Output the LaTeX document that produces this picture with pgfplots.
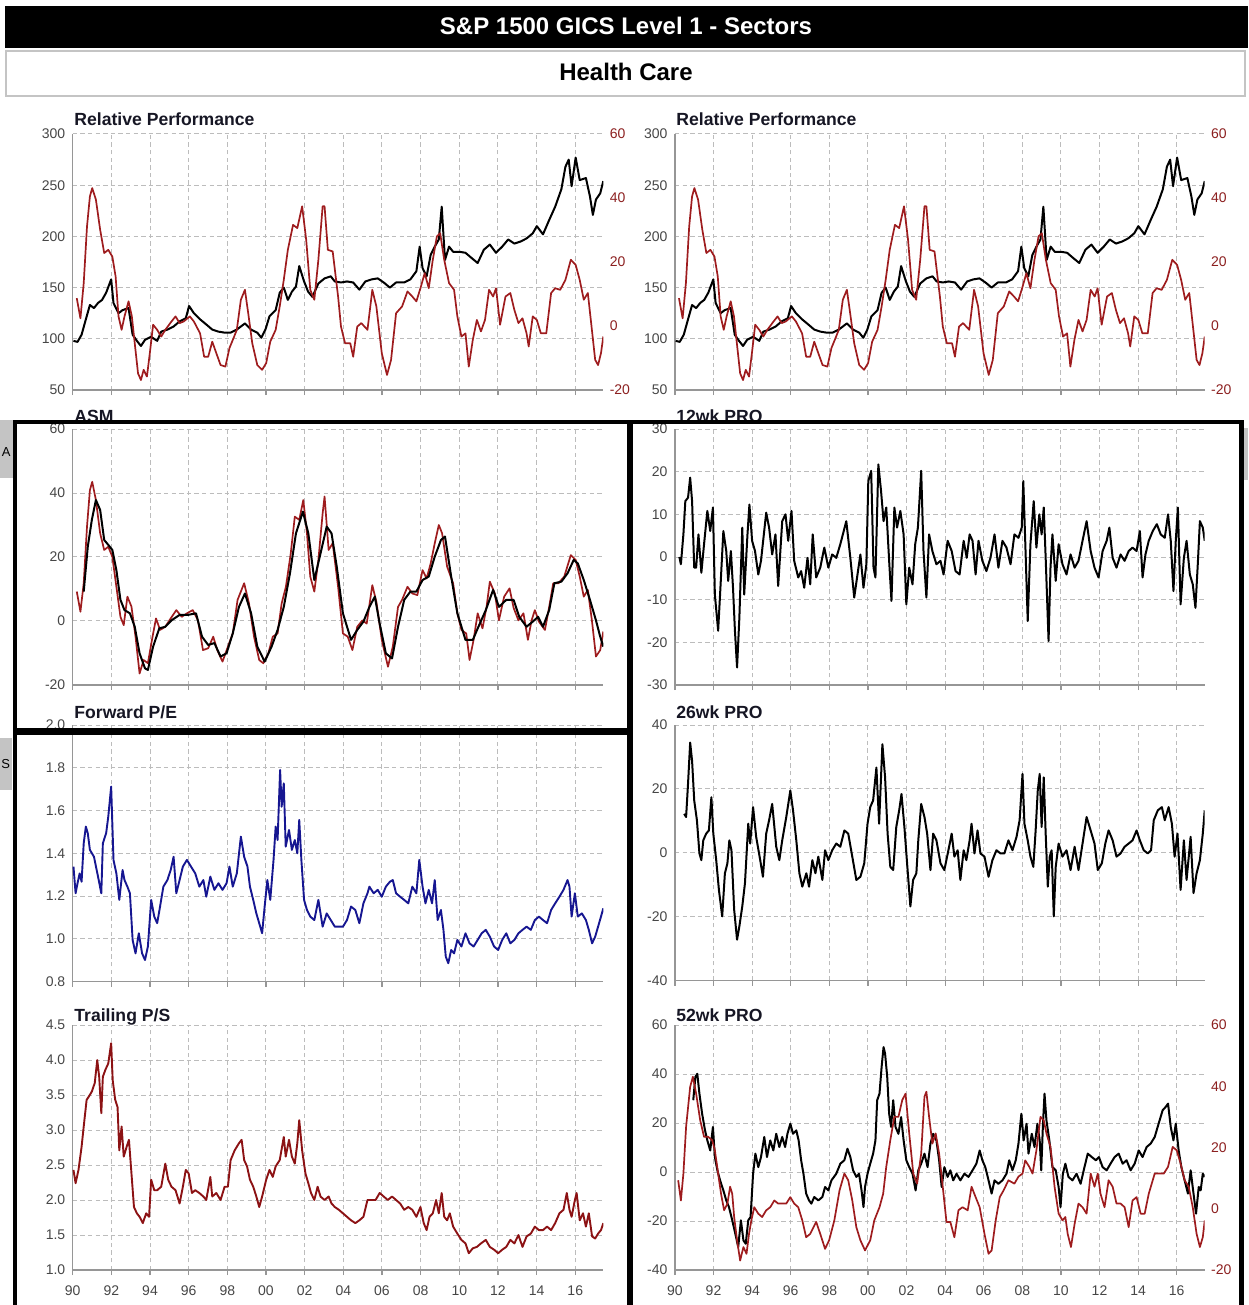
\documentclass[border=0pt]{standalone}
\usepackage{fontspec}
\setmainfont{Liberation Sans}
\usepackage{pgfplots}
\usepackage{pgfplotstable}
\pgfplotsset{compat=1.18}

\definecolor{pred}{RGB}{158,28,30}
\definecolor{pmaroon}{RGB}{140,18,20}
\definecolor{pblue}{RGB}{22,22,145}
\definecolor{gridgray}{RGB}{188,188,188}
\definecolor{axgray}{RGB}{150,150,150}
\definecolor{lblgray}{RGB}{70,70,70}
\definecolor{lblred}{RGB}{140,32,32}
\definecolor{tabgray}{RGB}{196,196,196}
\definecolor{ttl}{RGB}{22,22,36}

\def\LX{36.35pt}\def\RX{337.45pt}
\def\LW{265.3pt}\def\RW{264.9pt}

\pgfplotsset{
  panel/.style={
    scale only axis,
    xmin=1990, xmax=2017.45,
    axis x line*=bottom, axis y line*=left,
    axis line style={-, axgray, line width=0.75pt},
    xtick={1990,1992,...,2016},
    xticklabels={},
    tick align=outside,
    major tick length=2.5pt,
    xtick style={axgray, line width=0.6pt},
    ytick style={draw=none},
    grid=major,
    major grid style={gridgray, line width=0.5pt, dash pattern=on 2.2pt off 1.6pt},
    tick label style={font=\fontsize{7}{8}\selectfont, text=lblgray},
    yticklabel style={xshift=2.3pt},
    /pgf/number format/assume math mode=true,
    anchor=north west,
  },
  twin/.style={
    scale only axis,
    xmin=1990, xmax=2017.45,
    axis x line=none, axis y line*=right,
    axis line style={draw=none},
    ytick style={draw=none},
    tick align=outside,
    major tick length=2.5pt,
    ymin=-20, ymax=60, ytick={-20,0,20,40,60},
    tick label style={font=\fontsize{7}{8}\selectfont, text=lblred},
    yticklabel style={xshift=-2.8pt},
    /pgf/number format/assume math mode=true,
    anchor=north west,
  },
  bottomrow/.style={
    xticklabels={90,92,94,96,98,00,02,04,06,08,10,12,14,16},
    xticklabel style={yshift=-2pt},
  },
  blk/.style={black, line width=1pt, line join=round},
  rd/.style={pred, line width=0.85pt, line join=round},
}

% Relative performance (shared by both top panels)
\pgfplotstableread[row sep=\\]{
x y\\
1990.04 98\\ 1990.25 97\\ 1990.46 104\\ 1990.68 119\\ 1990.89 133\\ 1991.10 130\\ 1991.31 135\\ 1991.52 138\\
1991.73 145\\ 1991.99 158\\ 1992.11 135\\ 1992.37 125\\ 1992.58 128\\ 1992.89 130\\ 1993.10 104\\ 1993.32 98\\
1993.53 93\\ 1993.74 99\\ 1994.05 102\\ 1994.37 98\\ 1994.58 107\\ 1994.90 109\\ 1995.22 112\\ 1995.53 117\\
1995.85 120\\ 1996.02 132\\ 1996.27 125\\ 1996.59 119\\ 1996.91 114\\ 1997.22 109\\ 1997.54 107\\ 1997.86 106\\
1998.17 106\\ 1998.49 109\\ 1998.91 115\\ 1999.23 109\\ 1999.55 106\\ 1999.76 101\\ 1999.97 109\\ 2000.18 122\\
2000.50 128\\ 2000.71 145\\ 2000.92 150\\ 2001.13 138\\ 2001.34 146\\ 2001.55 151\\ 2001.72 171\\ 2001.97 156\\
2002.18 146\\ 2002.40 141\\ 2002.71 154\\ 2003.03 159\\ 2003.35 161\\ 2003.56 156\\ 2003.88 155\\ 2004.19 156\\
2004.51 155\\ 2004.83 148\\ 2005.14 156\\ 2005.46 158\\ 2005.78 159\\ 2006.09 155\\ 2006.41 150\\ 2006.73 155\\
2007.15 155\\ 2007.47 158\\ 2007.78 166\\ 2007.95 190\\ 2008.10 169\\ 2008.31 161\\ 2008.52 182\\ 2008.73 190\\
2008.94 197\\ 2009.09 229\\ 2009.26 177\\ 2009.47 190\\ 2009.68 185\\ 2010.00 185\\ 2010.32 184\\ 2010.63 179\\
2010.95 174\\ 2011.27 187\\ 2011.58 192\\ 2011.90 184\\ 2012.22 190\\ 2012.53 197\\ 2012.85 193\\ 2013.17 195\\
2013.48 198\\ 2013.80 203\\ 2014.01 210\\ 2014.33 202\\ 2014.65 216\\ 2014.96 229\\ 2015.28 246\\ 2015.49 268\\
2015.66 275\\ 2015.81 249\\ 2016.02 277\\ 2016.23 255\\ 2016.55 257\\ 2016.76 239\\ 2016.91 221\\ 2017.07 236\\
2017.29 242\\ 2017.45 254\\
}\relblack

\pgfplotstableread[row sep=\\]{
x y\\
1990.21 8.7\\ 1990.40 2.4\\ 1990.57 13.4\\ 1990.74 31.1\\ 1990.89 40.5\\ 1991.01 43.1\\ 1991.20 39.5\\ 1991.42 30.1\\
1991.63 22.8\\ 1991.84 23.8\\ 1992.05 21.7\\ 1992.22 15.5\\ 1992.37 3.0\\ 1992.53 -1.2\\ 1992.68 3.0\\ 1992.89 7.7\\
1993.06 3.0\\ 1993.21 -5.4\\ 1993.38 -14.8\\ 1993.53 -16.9\\ 1993.67 -13.7\\ 1993.84 -15.8\\ 1993.99 -8.5\\ 1994.16 0.4\\
1994.37 -1.2\\ 1994.58 -3.3\\ 1994.79 -1.2\\ 1995.11 1.4\\ 1995.32 3.0\\ 1995.53 0.9\\ 1995.74 1.4\\ 1996.06 3.0\\
1996.27 1.4\\ 1996.59 -2.3\\ 1996.80 -9.6\\ 1997.01 -9.6\\ 1997.22 -4.9\\ 1997.43 -8.5\\ 1997.65 -12.2\\ 1997.90 -12.7\\
1998.11 -6.9\\ 1998.32 -3.8\\ 1998.49 -1.2\\ 1998.70 8.2\\ 1998.91 11.3\\ 1999.08 4.0\\ 1999.29 -5.4\\ 1999.55 -12.2\\
1999.80 -13.7\\ 2000.01 -11.6\\ 2000.22 -4.9\\ 2000.50 -1.2\\ 2000.71 6.1\\ 2000.92 14.4\\ 2001.13 23.8\\ 2001.40 31.6\\
2001.62 30.6\\ 2001.87 37.4\\ 2002.08 26.9\\ 2002.29 11.3\\ 2002.50 8.2\\ 2002.71 20.7\\ 2002.93 37.4\\ 2003.03 37.4\\
2003.20 23.8\\ 2003.45 23.3\\ 2003.73 9.2\\ 2003.88 -0.2\\ 2004.09 -5.4\\ 2004.36 -5.4\\ 2004.51 -9.6\\ 2004.72 -0.2\\
2004.93 0.9\\ 2005.25 -1.2\\ 2005.50 11.3\\ 2005.71 6.1\\ 2005.99 -8.5\\ 2006.26 -15.3\\ 2006.47 -10.6\\ 2006.73 4.0\\
2007.04 6.1\\ 2007.32 10.8\\ 2007.57 9.2\\ 2007.78 7.7\\ 2007.99 11.8\\ 2008.21 16.5\\ 2008.42 11.8\\ 2008.63 20.7\\
2008.84 28.0\\ 2009.01 29.0\\ 2009.22 20.7\\ 2009.47 13.4\\ 2009.73 11.3\\ 2009.90 3.0\\ 2010.11 -3.3\\ 2010.32 -2.3\\
2010.49 -12.7\\ 2010.70 -4.3\\ 2010.91 1.9\\ 2011.12 -1.7\\ 2011.33 1.9\\ 2011.54 11.3\\ 2011.75 9.2\\ 2011.90 11.8\\
2012.11 0.4\\ 2012.39 9.2\\ 2012.64 10.3\\ 2012.85 5.0\\ 2013.06 0.9\\ 2013.27 2.4\\ 2013.48 -2.3\\ 2013.59 -6.4\\
2013.80 3.0\\ 2014.01 1.9\\ 2014.22 -2.3\\ 2014.50 -2.3\\ 2014.75 10.3\\ 2014.96 11.8\\ 2015.22 11.3\\ 2015.49 14.4\\
2015.77 20.7\\ 2016.02 19.1\\ 2016.23 14.4\\ 2016.44 8.2\\ 2016.65 10.3\\ 2016.86 -1.2\\ 2017.03 -10.6\\ 2017.18 -12.2\\
2017.33 -8.5\\ 2017.45 -3.3\\
}\relred

\begin{document}
\begin{tikzpicture}
% page area: 1248 x 1305 units of 0.5pt
\useasboundingbox (0pt,0pt) rectangle (624pt,-652.5pt);
\begin{scope}[x=0.5pt,y=-0.5pt]
  % header
  \fill[black] (5,6) rectangle (1248,48);
  \node[text=white, font=\bfseries\fontsize{12}{14}\selectfont] at (626,26) {S\&P 1500 GICS Level 1 - Sectors};
  \draw[tabgray, line width=1.25pt] (6,51) rectangle (1245,96);
  \node[font=\bfseries\fontsize{12}{14}\selectfont] at (626,72) {Health Care};
  % side tabs
  \fill[tabgray] (0,420) rectangle (13,478);
  \node[font=\fontsize{6.5}{7}\selectfont, inner sep=0pt] at (6.2,452) {A};
  \fill[tabgray] (0,738) rectangle (12,790);
  \node[font=\fontsize{6.5}{7}\selectfont, inner sep=0pt] at (5.8,764) {S};
  \fill[tabgray] (1244,428) rectangle (1248,480);
\end{scope}

% ---------- Row 1: Relative Performance ----------
\begin{axis}[panel, at={(\LX,-67pt)}, width=\LW, height=128pt,
  ymin=50, ymax=300, ytick={50,100,...,300}]
\addplot[blk] table {\relblack};
\end{axis}
\begin{axis}[twin, at={(\LX,-67pt)}, width=\LW, height=128pt]
\addplot[rd] table {\relred};
\end{axis}

\begin{axis}[panel, at={(\RX,-67pt)}, width=\RW, height=128pt,
  ymin=50, ymax=300, ytick={50,100,...,300}]
\addplot[blk] table {\relblack};
\end{axis}
\begin{axis}[twin, at={(\RX,-67pt)}, width=\RW, height=128pt]
\addplot[rd] table {\relred};
\end{axis}

% ---------- Row 2: ASM / 12wk PRO ----------
\begin{axis}[panel, at={(\LX,-214.5pt)}, width=\LW, height=128pt,
  ymin=-20, ymax=60, ytick={-20,0,20,40,60}]
\addplot[rd] table[row sep=\\] {
x y\\
1990.21 9.2\\ 1990.40 2.9\\ 1990.57 11.8\\ 1990.74 29.5\\ 1990.89 40.9\\ 1991.01 43.5\\ 1991.20 37.8\\ 1991.42 27.4\\
1991.63 22.2\\ 1991.84 23.2\\ 1992.05 20.1\\ 1992.26 10.7\\ 1992.47 1.3\\ 1992.64 -1.3\\ 1992.83 7.6\\ 1993.04 4.5\\
1993.25 -4.9\\ 1993.46 -16.4\\ 1993.67 -12.2\\ 1993.89 -13.2\\ 1994.10 -5.9\\ 1994.31 0.8\\ 1994.52 -2.8\\ 1994.79 -1.8\\
1995.07 0.8\\ 1995.36 3.4\\ 1995.64 1.3\\ 1995.91 2.4\\ 1996.21 3.4\\ 1996.48 0.2\\ 1996.74 -9.1\\ 1997.01 -8.5\\
1997.27 -4.9\\ 1997.48 -9.1\\ 1997.75 -12.7\\ 1998.03 -8.0\\ 1998.28 -3.9\\ 1998.53 6.6\\ 1998.87 11.8\\ 1999.12 5.5\\
1999.38 -4.9\\ 1999.65 -12.2\\ 1999.86 -13.2\\ 2000.12 -10.1\\ 2000.35 -4.9\\ 2000.60 -3.9\\ 2000.81 5.5\\ 2001.03 10.7\\
2001.28 21.1\\ 2001.49 32.6\\ 2001.72 31.6\\ 2001.93 37.8\\ 2002.12 27.4\\ 2002.29 13.9\\ 2002.50 9.2\\ 2002.71 19.1\\
2002.93 33.6\\ 2003.03 38.9\\ 2003.24 22.2\\ 2003.45 24.3\\ 2003.73 10.7\\ 2003.98 -3.9\\ 2004.23 -4.9\\ 2004.47 -9.1\\
2004.72 -1.8\\ 2004.99 0.2\\ 2005.21 -0.8\\ 2005.50 11.2\\ 2005.71 6.0\\ 2005.99 -5.9\\ 2006.31 -14.3\\ 2006.56 -8.0\\
2006.83 4.4\\ 2007.04 6.6\\ 2007.32 10.7\\ 2007.57 8.6\\ 2007.83 8.1\\ 2008.10 15.9\\ 2008.31 13.3\\ 2008.52 18.0\\
2008.73 24.3\\ 2008.94 30.0\\ 2009.11 27.4\\ 2009.37 17.0\\ 2009.68 11.8\\ 2009.90 2.4\\ 2010.11 -2.8\\ 2010.36 -3.9\\
2010.53 -12.2\\ 2010.74 -5.9\\ 2010.95 2.4\\ 2011.20 -2.3\\ 2011.41 4.4\\ 2011.58 12.3\\ 2011.84 8.6\\ 2012.05 0.2\\
2012.32 7.6\\ 2012.60 10.2\\ 2012.81 4.1\\ 2013.06 0.2\\ 2013.32 2.4\\ 2013.55 -5.9\\ 2013.74 0.2\\ 2013.91 3.4\\
2014.12 -0.2\\ 2014.43 -2.8\\ 2014.65 4.4\\ 2014.86 11.8\\ 2015.13 11.8\\ 2015.43 13.9\\ 2015.77 20.6\\ 2016.02 19.1\\
2016.23 13.9\\ 2016.44 7.6\\ 2016.65 9.7\\ 2016.86 0.2\\ 2017.07 -11.1\\ 2017.29 -9.1\\ 2017.45 -3.3\\
};
\addplot[blk] table[row sep=\\] {
x y\\
1990.57 9.2\\ 1990.78 23.2\\ 1990.99 31.6\\ 1991.20 37.8\\ 1991.42 34.7\\ 1991.63 25.3\\ 1991.84 23.8\\ 1992.05 22.2\\
1992.26 15.9\\ 1992.47 6.6\\ 1992.68 3.4\\ 1992.96 2.4\\ 1993.21 -1.8\\ 1993.46 -10.1\\ 1993.74 -14.8\\ 1993.89 -15.3\\
1994.16 -8.0\\ 1994.48 -2.3\\ 1994.79 -1.8\\ 1995.11 0.2\\ 1995.53 1.9\\ 1995.96 1.9\\ 1996.38 2.4\\ 1996.69 -4.9\\
1997.01 -7.5\\ 1997.33 -6.9\\ 1997.65 -11.1\\ 1997.96 -10.1\\ 1998.28 -3.9\\ 1998.60 4.4\\ 1998.91 8.6\\ 1999.23 2.4\\
1999.55 -8.0\\ 1999.93 -12.7\\ 2000.29 -8.0\\ 2000.60 -2.8\\ 2000.92 4.4\\ 2001.24 14.9\\ 2001.55 27.4\\ 2001.91 34.2\\
2002.19 27.4\\ 2002.50 12.8\\ 2002.82 21.1\\ 2003.14 29.5\\ 2003.39 27.4\\ 2003.66 17.0\\ 2003.98 2.4\\ 2004.40 -5.9\\
2004.72 -2.8\\ 2005.04 -0.2\\ 2005.35 4.4\\ 2005.63 7.6\\ 2005.88 -0.8\\ 2006.20 -10.1\\ 2006.52 -11.7\\ 2006.83 -1.8\\
2007.15 6.6\\ 2007.47 9.2\\ 2007.78 9.2\\ 2008.10 12.8\\ 2008.42 13.9\\ 2008.73 20.1\\ 2009.05 25.3\\ 2009.26 26.4\\
2009.58 13.9\\ 2009.90 2.4\\ 2010.32 -5.9\\ 2010.70 -5.9\\ 2010.99 -1.8\\ 2011.37 3.4\\ 2011.75 9.7\\ 2012.05 4.4\\
2012.43 6.6\\ 2012.81 6.6\\ 2013.10 1.3\\ 2013.48 -1.8\\ 2013.80 -0.2\\ 2014.08 1.3\\ 2014.33 -1.8\\ 2014.65 3.4\\
2014.92 11.8\\ 2015.28 12.3\\ 2015.60 14.9\\ 2015.92 19.1\\ 2016.13 18.0\\ 2016.44 12.8\\ 2016.76 6.6\\ 2017.07 0.2\\
2017.29 -4.9\\ 2017.45 -8.0\\
};
\end{axis}

\begin{axis}[panel, at={(\RX,-214.5pt)}, width=\RW, height=128pt,
  ymin=-30, ymax=30, ytick={-30,-20,...,30}]
\addplot[blk] table[row sep=\\] {
x y\\
1990.23 0\\ 1990.31 -1.7\\ 1990.44 5.3\\ 1990.54 13.1\\ 1990.68 13.9\\ 1990.79 18.6\\ 1990.89 13.1\\ 1991.00 -2.5\\
1991.10 -2.5\\ 1991.22 5.3\\ 1991.37 -3.7\\ 1991.51 3.0\\ 1991.68 10.8\\ 1991.83 6.1\\ 1991.97 11.6\\ 1992.07 -8.8\\
1992.24 -17.3\\ 1992.34 -8.8\\ 1992.51 6.1\\ 1992.66 1.4\\ 1992.76 -5.6\\ 1992.90 1.4\\ 1993.01 -7.2\\ 1993.11 -17.3\\
1993.22 -25.9\\ 1993.34 -14.2\\ 1993.49 6.9\\ 1993.59 -8.8\\ 1993.76 5.3\\ 1993.86 12.3\\ 1994.00 3.8\\ 1994.15 1.4\\
1994.32 -4.1\\ 1994.46 -0.9\\ 1994.73 10.4\\ 1994.88 6.9\\ 1995.04 0.6\\ 1995.21 5.3\\ 1995.35 -6.8\\ 1995.56 8.4\\
1995.73 10.0\\ 1995.87 3.8\\ 1996.04 10.8\\ 1996.18 -0.9\\ 1996.39 -4.8\\ 1996.54 -3.3\\ 1996.70 -7.2\\ 1996.87 -0.2\\
1997.01 -6.4\\ 1997.14 5.3\\ 1997.32 -4.8\\ 1997.53 -2.5\\ 1997.74 2.2\\ 1997.95 -2.5\\ 1998.15 0.6\\ 1998.36 -0.2\\
1998.57 3.0\\ 1998.88 8.4\\ 1999.09 -0.2\\ 1999.29 -9.5\\ 1999.46 -4.1\\ 1999.61 0.6\\ 1999.77 -7.2\\ 1999.92 -1.7\\
2000.02 17.8\\ 2000.17 20.2\\ 2000.29 -2.5\\ 2000.39 -4.8\\ 2000.54 21.7\\ 2000.68 15.5\\ 2000.81 8.4\\ 2000.95 11.6\\
2001.10 -0.9\\ 2001.22 -10.3\\ 2001.37 11.6\\ 2001.51 6.9\\ 2001.68 10.8\\ 2001.85 5.3\\ 2001.99 -11.1\\ 2002.14 -2.5\\
2002.31 -6.4\\ 2002.45 3.0\\ 2002.59 6.9\\ 2002.76 20.2\\ 2002.88 1.4\\ 2003.03 -9.5\\ 2003.17 5.3\\ 2003.34 1.4\\
2003.55 -1.7\\ 2003.76 -0.9\\ 2003.92 -4.1\\ 2004.13 3.8\\ 2004.34 1.4\\ 2004.54 -3.3\\ 2004.75 -4.1\\ 2004.96 3.8\\
2005.12 -0.2\\ 2005.27 5.3\\ 2005.42 3.8\\ 2005.58 -4.1\\ 2005.73 3.8\\ 2005.93 -0.9\\ 2006.14 -3.3\\ 2006.35 -0.2\\
2006.56 5.3\\ 2006.76 -2.5\\ 2006.97 3.8\\ 2007.18 2.2\\ 2007.39 -1.7\\ 2007.59 5.3\\ 2007.80 4.5\\ 2007.97 6.9\\
2008.05 17.8\\ 2008.15 3.8\\ 2008.28 -15.0\\ 2008.42 3.0\\ 2008.59 13.1\\ 2008.73 2.2\\ 2008.88 10.0\\ 2009.00 5.3\\
2009.11 11.6\\ 2009.21 -0.2\\ 2009.36 -19.7\\ 2009.46 -2.5\\ 2009.56 5.3\\ 2009.73 -5.6\\ 2009.88 3.0\\ 2010.08 -1.7\\
2010.29 -4.1\\ 2010.50 0.6\\ 2010.71 -2.5\\ 2010.91 -0.9\\ 2011.12 3.8\\ 2011.33 8.4\\ 2011.54 1.4\\ 2011.74 -2.5\\
2011.95 -4.8\\ 2012.16 1.4\\ 2012.37 3.8\\ 2012.51 6.9\\ 2012.68 -0.2\\ 2012.88 -2.5\\ 2013.09 0.6\\ 2013.30 -0.9\\
2013.51 1.4\\ 2013.71 2.2\\ 2013.92 1.4\\ 2014.09 6.1\\ 2014.23 -4.8\\ 2014.38 0.6\\ 2014.55 3.8\\ 2014.76 6.1\\
2014.97 7.7\\ 2015.17 5.3\\ 2015.38 4.5\\ 2015.55 10.0\\ 2015.69 3.8\\ 2015.83 -8.0\\ 2015.95 3.8\\ 2016.06 11.6\\
2016.20 -11.1\\ 2016.37 -0.2\\ 2016.51 3.8\\ 2016.68 -4.1\\ 2016.83 -6.4\\ 2016.97 -11.9\\ 2017.10 -0.9\\ 2017.20 8.4\\
2017.35 6.9\\ 2017.45 3.8\\
};
\end{axis}

% ---------- Row 3: Forward P/E / 26wk PRO ----------
\begin{axis}[panel, at={(\LX,-362.5pt)}, width=\LW, height=128.3pt,
  ymin=0.8, ymax=2.0, ytick={0.8,1,1.2,1.4,1.6,1.8,2},
  yticklabel style={/pgf/number format/.cd, fixed, fixed zerofill, precision=1}]
\addplot[pblue, line width=0.95pt, line join=round] table[row sep=\\] {
x y\\
1990.04 1.338\\ 1990.15 1.213\\ 1990.25 1.260\\ 1990.36 1.306\\ 1990.46 1.267\\ 1990.57 1.447\\ 1990.68 1.525\\ 1990.78 1.494\\
1990.89 1.416\\ 1991.10 1.384\\ 1991.31 1.291\\ 1991.48 1.213\\ 1991.56 1.447\\ 1991.73 1.494\\ 1991.84 1.571\\ 1991.99 1.712\\
1992.11 1.369\\ 1992.26 1.306\\ 1992.41 1.182\\ 1992.58 1.322\\ 1992.68 1.275\\ 1992.83 1.244\\ 1992.96 1.213\\ 1993.10 0.995\\
1993.25 0.932\\ 1993.42 1.026\\ 1993.59 0.932\\ 1993.74 0.901\\ 1993.89 0.964\\ 1994.06 1.182\\ 1994.22 1.104\\ 1994.37 1.073\\
1994.52 1.151\\ 1994.69 1.244\\ 1994.90 1.275\\ 1995.07 1.322\\ 1995.22 1.384\\ 1995.36 1.213\\ 1995.53 1.275\\ 1995.70 1.338\\
1995.91 1.369\\ 1996.12 1.338\\ 1996.34 1.306\\ 1996.55 1.244\\ 1996.76 1.275\\ 1996.91 1.197\\ 1997.12 1.291\\ 1997.33 1.229\\
1997.54 1.260\\ 1997.75 1.229\\ 1997.96 1.260\\ 1998.11 1.338\\ 1998.28 1.244\\ 1998.49 1.306\\ 1998.70 1.478\\ 1998.87 1.384\\
1999.04 1.338\\ 1999.17 1.244\\ 1999.34 1.182\\ 1999.50 1.119\\ 1999.65 1.073\\ 1999.80 1.026\\ 1999.93 1.151\\ 2000.07 1.275\\
2000.22 1.182\\ 2000.39 1.369\\ 2000.50 1.525\\ 2000.60 1.462\\ 2000.73 1.790\\ 2000.81 1.618\\ 2000.92 1.727\\ 2001.02 1.431\\
2001.19 1.509\\ 2001.34 1.416\\ 2001.49 1.462\\ 2001.62 1.400\\ 2001.72 1.556\\ 2001.83 1.369\\ 2001.97 1.182\\ 2002.12 1.135\\
2002.29 1.104\\ 2002.50 1.088\\ 2002.71 1.182\\ 2002.93 1.057\\ 2003.14 1.119\\ 2003.35 1.088\\ 2003.56 1.057\\ 2003.77 1.057\\
2003.98 1.057\\ 2004.19 1.088\\ 2004.40 1.151\\ 2004.62 1.135\\ 2004.83 1.073\\ 2005.04 1.166\\ 2005.25 1.213\\ 2005.35 1.244\\
2005.57 1.213\\ 2005.78 1.229\\ 2005.99 1.197\\ 2006.20 1.244\\ 2006.41 1.267\\ 2006.56 1.275\\ 2006.73 1.213\\ 2006.94 1.197\\
2007.15 1.182\\ 2007.36 1.166\\ 2007.57 1.244\\ 2007.78 1.213\\ 2007.93 1.369\\ 2008.10 1.244\\ 2008.25 1.166\\ 2008.42 1.229\\
2008.59 1.166\\ 2008.73 1.275\\ 2008.88 1.088\\ 2009.05 1.135\\ 2009.18 1.042\\ 2009.30 0.917\\ 2009.43 0.886\\ 2009.58 0.948\\
2009.73 0.932\\ 2009.90 0.995\\ 2010.11 0.964\\ 2010.32 1.026\\ 2010.53 0.979\\ 2010.74 0.964\\ 2010.95 0.995\\ 2011.16 1.026\\
2011.37 1.042\\ 2011.58 1.010\\ 2011.80 0.964\\ 2012.01 0.948\\ 2012.22 0.995\\ 2012.43 1.026\\ 2012.64 0.979\\ 2012.85 0.995\\
2013.06 1.026\\ 2013.27 1.042\\ 2013.48 1.057\\ 2013.70 1.042\\ 2013.91 1.088\\ 2014.12 1.104\\ 2014.33 1.088\\ 2014.54 1.073\\
2014.75 1.135\\ 2014.96 1.166\\ 2015.18 1.197\\ 2015.39 1.229\\ 2015.60 1.275\\ 2015.70 1.244\\ 2015.81 1.104\\ 2015.98 1.213\\
2016.13 1.104\\ 2016.34 1.119\\ 2016.55 1.088\\ 2016.70 1.042\\ 2016.87 0.979\\ 2017.03 1.010\\ 2017.18 1.057\\ 2017.33 1.104\\
2017.45 1.143\\
};
\end{axis}

\begin{axis}[panel, at={(\RX,-362.5pt)}, width=\RW, height=127.8pt,
  ymin=-40, ymax=40, ytick={-40,-20,0,20,40}]
\addplot[blk] table[row sep=\\] {
x y\\
1990.48 12.2\\ 1990.58 11.2\\ 1990.68 21.6\\ 1990.79 34.5\\ 1990.89 28.8\\ 1991.00 16.4\\ 1991.14 10.2\\ 1991.27 -0.2\\
1991.37 -2.3\\ 1991.47 3.9\\ 1991.62 6.0\\ 1991.76 7.0\\ 1991.89 17.4\\ 1991.99 6.0\\ 1992.14 -2.3\\ 1992.28 -11.6\\
1992.45 -19.9\\ 1992.59 -6.4\\ 1992.72 -3.3\\ 1992.82 3.9\\ 1992.93 0.8\\ 1993.07 -17.8\\ 1993.22 -27.2\\ 1993.34 -23.0\\
1993.49 -16.8\\ 1993.63 -9.5\\ 1993.80 9.1\\ 1993.90 2.9\\ 1994.05 14.3\\ 1994.21 5.0\\ 1994.42 -2.3\\ 1994.56 -7.5\\
1994.73 6.0\\ 1994.88 10.2\\ 1995.04 15.3\\ 1995.25 1.9\\ 1995.41 -2.3\\ 1995.56 3.9\\ 1995.77 11.2\\ 1995.98 19.5\\
1996.12 13.3\\ 1996.29 3.9\\ 1996.45 -6.4\\ 1996.60 -10.6\\ 1996.81 -6.4\\ 1996.95 -10.6\\ 1997.12 -2.3\\ 1997.28 -6.4\\
1997.43 -1.2\\ 1997.64 -8.5\\ 1997.78 0.8\\ 1997.95 -2.3\\ 1998.15 0.8\\ 1998.36 2.9\\ 1998.57 1.9\\ 1998.78 7.0\\
1998.98 6.0\\ 1999.19 -1.2\\ 1999.40 -8.5\\ 1999.61 -7.5\\ 1999.81 -3.3\\ 1999.98 9.1\\ 2000.12 14.3\\ 2000.27 16.4\\
2000.44 26.7\\ 2000.58 9.1\\ 2000.75 34.0\\ 2000.89 23.6\\ 2001.02 6.0\\ 2001.16 -4.4\\ 2001.31 -5.4\\ 2001.47 8.1\\
2001.62 13.3\\ 2001.74 18.4\\ 2001.89 8.1\\ 2002.03 -3.3\\ 2002.20 -16.8\\ 2002.34 -8.5\\ 2002.51 -6.4\\ 2002.61 3.9\\
2002.76 15.3\\ 2002.93 11.2\\ 2003.07 6.0\\ 2003.24 -5.4\\ 2003.38 6.0\\ 2003.55 3.9\\ 2003.76 -3.3\\ 2003.96 -5.4\\
2004.17 0.8\\ 2004.34 6.0\\ 2004.48 -1.2\\ 2004.65 0.8\\ 2004.79 -8.5\\ 2004.96 0.8\\ 2005.10 -2.3\\ 2005.27 3.9\\
2005.37 9.1\\ 2005.52 -0.2\\ 2005.68 7.0\\ 2005.83 -0.2\\ 2006.04 -1.2\\ 2006.25 -7.5\\ 2006.45 -2.3\\ 2006.66 0.8\\
2006.87 -0.2\\ 2007.07 -0.2\\ 2007.28 3.9\\ 2007.49 0.8\\ 2007.70 5.0\\ 2007.86 10.2\\ 2008.01 24.7\\ 2008.11 9.1\\
2008.28 3.9\\ 2008.42 -1.2\\ 2008.57 -4.4\\ 2008.69 7.0\\ 2008.80 19.5\\ 2008.90 24.7\\ 2009.00 8.1\\ 2009.11 23.6\\
2009.21 6.0\\ 2009.32 -10.6\\ 2009.42 -1.2\\ 2009.52 0.8\\ 2009.63 -19.9\\ 2009.73 -4.4\\ 2009.88 2.9\\ 2010.08 -1.2\\
2010.29 0.8\\ 2010.50 -5.4\\ 2010.71 1.9\\ 2010.91 -5.4\\ 2011.12 2.9\\ 2011.33 11.2\\ 2011.54 7.0\\ 2011.74 2.9\\
2011.91 -5.4\\ 2012.12 -3.3\\ 2012.30 2.9\\ 2012.47 7.0\\ 2012.68 3.9\\ 2012.88 -1.2\\ 2013.09 -0.2\\ 2013.30 1.9\\
2013.51 2.9\\ 2013.71 3.9\\ 2013.92 7.0\\ 2014.09 3.9\\ 2014.29 0.8\\ 2014.50 -0.2\\ 2014.67 0.8\\ 2014.81 10.2\\
2015.02 13.3\\ 2015.23 14.3\\ 2015.38 10.2\\ 2015.58 14.3\\ 2015.75 9.1\\ 2015.89 -1.2\\ 2016.04 6.0\\ 2016.20 -11.6\\
2016.37 3.9\\ 2016.51 -8.5\\ 2016.72 5.0\\ 2016.87 -12.6\\ 2017.03 -6.4\\ 2017.20 -2.3\\ 2017.35 6.0\\ 2017.45 13.3\\
};
\end{axis}

% ---------- Row 4: Trailing P/S / 52wk PRO ----------
\begin{axis}[panel, bottomrow, at={(\LX,-512.5pt)}, width=\LW, height=122.5pt,
  ymin=1, ymax=4.5, ytick={1,1.5,2,2.5,3,3.5,4,4.5},
  yticklabel style={/pgf/number format/.cd, fixed, fixed zerofill, precision=1}]
\addplot[pmaroon, line width=0.95pt, line join=round] table[row sep=\\] {
x y\\
1990.04 2.43\\ 1990.15 2.24\\ 1990.30 2.43\\ 1990.46 2.76\\ 1990.57 3.05\\ 1990.72 3.43\\ 1990.84 3.48\\ 1990.99 3.55\\
1991.14 3.67\\ 1991.27 4.00\\ 1991.37 3.76\\ 1991.48 3.24\\ 1991.56 3.76\\ 1991.69 3.86\\ 1991.84 3.95\\ 1991.99 4.24\\
1992.07 3.71\\ 1992.20 3.43\\ 1992.32 3.33\\ 1992.41 2.71\\ 1992.53 3.05\\ 1992.64 2.62\\ 1992.79 2.76\\ 1992.91 2.86\\
1993.04 2.38\\ 1993.17 1.90\\ 1993.32 1.81\\ 1993.46 1.76\\ 1993.63 1.67\\ 1993.80 1.81\\ 1993.95 1.76\\ 1994.06 2.29\\
1994.22 2.14\\ 1994.37 2.14\\ 1994.58 2.19\\ 1994.79 2.52\\ 1994.94 2.29\\ 1995.11 2.19\\ 1995.32 2.14\\ 1995.53 1.95\\
1995.70 2.19\\ 1995.85 2.43\\ 1996.00 2.38\\ 1996.17 2.10\\ 1996.34 2.14\\ 1996.55 2.10\\ 1996.76 2.05\\ 1996.91 2.00\\
1997.12 2.33\\ 1997.22 2.05\\ 1997.43 2.10\\ 1997.65 2.00\\ 1997.86 2.19\\ 1998.03 2.19\\ 1998.17 2.57\\ 1998.38 2.71\\
1998.60 2.81\\ 1998.74 2.86\\ 1998.87 2.57\\ 1999.02 2.48\\ 1999.17 2.29\\ 1999.34 2.19\\ 1999.50 2.05\\ 1999.65 1.90\\
1999.80 2.05\\ 2000.01 2.29\\ 2000.18 2.43\\ 2000.35 2.33\\ 2000.50 2.48\\ 2000.71 2.57\\ 2000.92 2.90\\ 2001.02 2.62\\
2001.19 2.86\\ 2001.34 2.62\\ 2001.49 2.52\\ 2001.62 2.81\\ 2001.72 3.14\\ 2001.87 2.71\\ 2002.04 2.38\\ 2002.19 2.24\\
2002.33 2.10\\ 2002.50 2.00\\ 2002.67 2.19\\ 2002.82 2.05\\ 2003.03 2.00\\ 2003.24 2.05\\ 2003.39 1.95\\ 2003.56 1.90\\
2003.77 1.86\\ 2003.98 1.81\\ 2004.19 1.76\\ 2004.40 1.71\\ 2004.62 1.67\\ 2004.83 1.71\\ 2005.04 1.76\\ 2005.25 2.00\\
2005.46 2.00\\ 2005.67 2.00\\ 2005.88 2.10\\ 2006.09 2.05\\ 2006.30 2.00\\ 2006.52 2.05\\ 2006.73 2.00\\ 2006.94 1.95\\
2007.15 1.86\\ 2007.36 1.90\\ 2007.57 1.86\\ 2007.78 1.76\\ 2007.99 1.90\\ 2008.16 1.67\\ 2008.31 1.57\\ 2008.46 1.76\\
2008.63 1.81\\ 2008.80 2.00\\ 2008.94 1.81\\ 2009.09 2.10\\ 2009.22 1.76\\ 2009.37 1.71\\ 2009.51 1.81\\ 2009.68 1.62\\
2009.90 1.52\\ 2010.11 1.43\\ 2010.32 1.38\\ 2010.49 1.24\\ 2010.70 1.31\\ 2010.91 1.33\\ 2011.12 1.38\\ 2011.37 1.43\\
2011.58 1.33\\ 2011.80 1.29\\ 2012.01 1.24\\ 2012.22 1.29\\ 2012.43 1.33\\ 2012.64 1.43\\ 2012.85 1.38\\ 2013.06 1.50\\
2013.27 1.33\\ 2013.48 1.48\\ 2013.70 1.52\\ 2013.91 1.62\\ 2014.12 1.57\\ 2014.33 1.57\\ 2014.54 1.62\\ 2014.75 1.57\\
2014.96 1.67\\ 2015.18 1.81\\ 2015.39 1.86\\ 2015.56 2.10\\ 2015.70 1.86\\ 2015.81 1.76\\ 2015.98 2.00\\ 2016.07 2.10\\
2016.23 1.71\\ 2016.40 1.81\\ 2016.55 1.62\\ 2016.70 1.81\\ 2016.87 1.48\\ 2017.03 1.45\\ 2017.18 1.52\\ 2017.33 1.57\\
2017.45 1.67\\
};
\end{axis}

\begin{axis}[panel, bottomrow, at={(\RX,-512.5pt)}, width=\RW, height=122.5pt,
  ymin=-40, ymax=60, ytick={-40,-20,0,20,40,60}]
\addplot[blk] table[row sep=\\] {
x y\\
1990.95 29.3\\ 1991.06 38.8\\ 1991.16 40.1\\ 1991.27 32.0\\ 1991.41 23.8\\ 1991.56 17.0\\ 1991.68 12.9\\ 1991.83 8.8\\
1991.97 18.4\\ 1992.07 6.1\\ 1992.20 0.7\\ 1992.34 -3.4\\ 1992.51 -7.5\\ 1992.66 -11.6\\ 1992.80 -14.3\\ 1992.97 -19.7\\
1993.13 -25.2\\ 1993.28 -30.6\\ 1993.42 -19.7\\ 1993.55 -27.9\\ 1993.67 -29.3\\ 1993.80 -19.7\\ 1993.92 -18.4\\ 1994.05 -0.7\\
1994.17 7.5\\ 1994.32 2.0\\ 1994.46 6.1\\ 1994.63 14.3\\ 1994.77 6.1\\ 1994.94 12.9\\ 1995.10 8.8\\ 1995.25 15.6\\
1995.41 10.2\\ 1995.56 14.3\\ 1995.71 10.2\\ 1995.83 15.6\\ 1995.98 19.7\\ 1996.12 15.6\\ 1996.29 17.0\\ 1996.41 12.9\\
1996.54 4.8\\ 1996.66 -0.7\\ 1996.80 -8.8\\ 1996.95 -11.6\\ 1997.07 -12.9\\ 1997.22 -10.2\\ 1997.43 -11.6\\ 1997.64 -10.2\\
1997.78 -6.1\\ 1997.95 -7.5\\ 1998.11 -3.4\\ 1998.36 -0.7\\ 1998.57 3.4\\ 1998.78 4.8\\ 1998.94 9.5\\ 1999.09 6.1\\
1999.23 0.7\\ 1999.40 -2.0\\ 1999.54 -0.7\\ 1999.67 -7.5\\ 1999.77 -14.3\\ 1999.85 -6.1\\ 1999.98 -0.7\\ 2000.12 3.4\\
2000.27 7.5\\ 2000.39 12.9\\ 2000.48 29.3\\ 2000.60 32.0\\ 2000.71 42.9\\ 2000.81 51.0\\ 2000.89 48.3\\ 2001.00 38.8\\
2001.10 23.8\\ 2001.20 18.4\\ 2001.31 29.3\\ 2001.43 18.4\\ 2001.58 15.6\\ 2001.72 22.4\\ 2001.85 12.9\\ 2001.99 4.8\\
2002.14 2.0\\ 2002.31 -0.7\\ 2002.47 -7.5\\ 2002.61 0.7\\ 2002.76 3.4\\ 2002.93 7.5\\ 2003.09 2.0\\ 2003.24 11.6\\
2003.38 15.6\\ 2003.55 12.9\\ 2003.69 4.8\\ 2003.82 -6.1\\ 2003.96 2.0\\ 2004.13 -2.0\\ 2004.27 0.7\\ 2004.42 -3.4\\
2004.59 -0.7\\ 2004.79 -3.4\\ 2005.00 -0.7\\ 2005.21 -2.0\\ 2005.42 0.7\\ 2005.62 3.4\\ 2005.79 8.8\\ 2005.93 4.8\\
2006.08 2.0\\ 2006.25 -3.4\\ 2006.41 -8.8\\ 2006.56 -3.4\\ 2006.76 -4.8\\ 2006.97 -3.4\\ 2007.18 -0.7\\ 2007.32 4.8\\
2007.49 0.7\\ 2007.66 4.8\\ 2007.80 11.6\\ 2007.95 23.8\\ 2008.07 12.9\\ 2008.22 19.7\\ 2008.32 7.5\\ 2008.49 15.6\\
2008.63 10.2\\ 2008.78 19.7\\ 2008.90 12.9\\ 2008.98 0.7\\ 2009.07 19.7\\ 2009.15 32.0\\ 2009.25 21.1\\ 2009.40 12.9\\
2009.56 2.0\\ 2009.73 0.7\\ 2009.88 -6.1\\ 2009.98 -14.3\\ 2010.10 -0.7\\ 2010.23 3.4\\ 2010.39 -2.0\\ 2010.60 -3.4\\
2010.81 -0.7\\ 2011.02 -4.8\\ 2011.22 2.0\\ 2011.39 7.5\\ 2011.60 6.1\\ 2011.81 4.8\\ 2011.97 6.1\\ 2012.16 2.0\\
2012.37 0.7\\ 2012.57 3.4\\ 2012.78 6.1\\ 2012.99 7.5\\ 2013.20 3.4\\ 2013.40 4.8\\ 2013.61 0.7\\ 2013.82 3.4\\
2014.03 8.8\\ 2014.23 6.1\\ 2014.44 10.2\\ 2014.65 11.6\\ 2014.86 14.3\\ 2015.06 19.7\\ 2015.27 25.2\\ 2015.42 26.5\\
2015.55 27.9\\ 2015.69 18.4\\ 2015.83 12.9\\ 2015.95 19.7\\ 2016.10 8.8\\ 2016.24 2.0\\ 2016.41 -3.4\\ 2016.58 -8.8\\
2016.72 0.7\\ 2016.87 -8.8\\ 2017.00 -17.0\\ 2017.14 -6.1\\ 2017.24 -7.5\\ 2017.35 -0.7\\ 2017.45 -2.0\\
};
\end{axis}
\begin{axis}[twin, at={(\RX,-512.5pt)}, width=\RW, height=122.5pt]
\addplot[rd] table[row sep=\\] {
x y\\
1990.17 9.3\\ 1990.31 2.7\\ 1990.44 11.5\\ 1990.58 26.8\\ 1990.79 39.8\\ 1990.93 43.1\\ 1991.10 37.6\\ 1991.31 28.9\\
1991.51 23.5\\ 1991.72 23.5\\ 1991.93 22.4\\ 1992.07 19.1\\ 1992.24 11.5\\ 1992.39 4.9\\ 1992.55 -0.5\\ 1992.72 1.7\\
1992.86 7.2\\ 1992.97 4.9\\ 1993.07 -2.7\\ 1993.22 -10.3\\ 1993.38 -16.9\\ 1993.55 -12.5\\ 1993.71 -14.7\\ 1993.84 -8.2\\
1993.96 -3.8\\ 1994.11 0.5\\ 1994.32 -1.6\\ 1994.52 -2.7\\ 1994.73 -0.5\\ 1994.94 0.5\\ 1995.15 2.7\\ 1995.35 1.7\\
1995.56 1.7\\ 1995.77 1.7\\ 1995.98 3.8\\ 1996.18 1.7\\ 1996.39 0.5\\ 1996.60 -3.8\\ 1996.80 -9.3\\ 1997.01 -8.2\\
1997.32 -4.3\\ 1997.53 -8.2\\ 1997.78 -13.1\\ 1997.99 -10.3\\ 1998.26 -3.8\\ 1998.53 6.0\\ 1998.78 11.5\\ 1998.98 9.3\\
1999.19 2.7\\ 1999.40 -6.0\\ 1999.61 -10.3\\ 1999.85 -13.6\\ 2000.12 -10.3\\ 2000.33 -3.8\\ 2000.60 0.5\\ 2000.79 4.9\\
2000.95 13.7\\ 2001.16 22.4\\ 2001.37 30.0\\ 2001.58 30.0\\ 2001.78 35.5\\ 2001.95 37.6\\ 2002.14 24.6\\ 2002.35 11.5\\
2002.55 8.2\\ 2002.76 18.0\\ 2002.93 36.6\\ 2003.03 38.2\\ 2003.17 30.0\\ 2003.34 21.3\\ 2003.51 24.6\\ 2003.69 18.0\\
2003.86 8.2\\ 2004.07 -4.3\\ 2004.27 -4.3\\ 2004.48 -9.3\\ 2004.69 -0.5\\ 2004.90 0.5\\ 2005.17 -0.5\\ 2005.37 7.2\\
2005.58 3.8\\ 2005.79 0.5\\ 2006.04 -8.2\\ 2006.25 -14.7\\ 2006.41 -13.6\\ 2006.62 -3.8\\ 2006.83 3.8\\ 2007.03 6.0\\
2007.28 9.3\\ 2007.59 8.2\\ 2007.80 10.5\\ 2008.01 11.5\\ 2008.15 15.8\\ 2008.36 13.7\\ 2008.53 11.5\\ 2008.73 19.1\\
2008.94 30.0\\ 2009.11 28.9\\ 2009.25 24.6\\ 2009.46 20.2\\ 2009.67 7.2\\ 2009.88 -1.6\\ 2010.08 -3.8\\ 2010.23 -2.7\\
2010.35 -8.2\\ 2010.52 -12.5\\ 2010.71 -4.9\\ 2010.91 1.7\\ 2011.12 0.5\\ 2011.33 -1.6\\ 2011.54 11.5\\ 2011.74 7.2\\
2011.91 11.5\\ 2012.05 4.9\\ 2012.26 0.5\\ 2012.47 9.3\\ 2012.68 7.2\\ 2012.88 1.7\\ 2013.09 1.7\\ 2013.30 0.5\\
2013.51 -6.0\\ 2013.71 2.7\\ 2013.92 3.8\\ 2014.13 -1.6\\ 2014.34 -1.6\\ 2014.55 4.9\\ 2014.86 11.5\\ 2015.06 11.5\\
2015.33 11.5\\ 2015.55 13.7\\ 2015.79 20.2\\ 2016.00 19.1\\ 2016.20 14.8\\ 2016.41 9.3\\ 2016.62 7.2\\ 2016.83 0.5\\
2017.03 -8.2\\ 2017.20 -12.5\\ 2017.35 -9.3\\ 2017.45 -3.8\\
};
\end{axis}

\begin{scope}[x=0.5pt,y=-0.5pt]
  % panel titles
  \begin{scope}[every node/.style={anchor=base west, inner sep=0pt, text=ttl, font=\bfseries\fontsize{8.8}{10}\selectfont}]
    \node at (74,126) {Relative Performance};
    \node at (676,126) {Relative Performance};
    \node at (74,422) {ASM};
    \node at (676,422) {12wk PRO};
    \node at (74,718) {Forward P/E};
    \node at (676,718) {26wk PRO};
    \node at (74,1021) {Trailing P/S};
    \node at (676,1021) {52wk PRO};
  \end{scope}
  % selection frames
  \draw[black, line width=2.25pt] (15,422) rectangle (629,730);
  \draw[black, line width=2.25pt] (15,733) rectangle (629,1340);
  \draw[black, line width=2.25pt] (631,422) rectangle (1241.5,1340);
\end{scope}
\end{tikzpicture}
\end{document}
